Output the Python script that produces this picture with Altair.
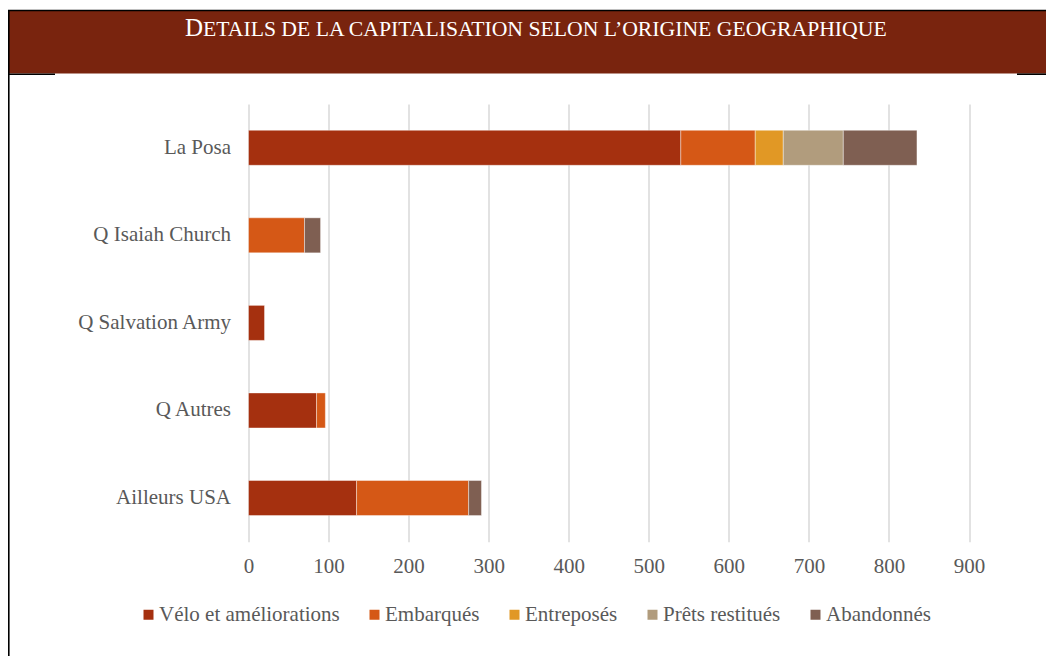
import altair as alt
import pandas as pd

categories = ["La Posa", "Q Isaiah Church", "Q Salvation Army", "Q Autres", "Ailleurs USA"]
series = ["Vélo et améliorations", "Embarqués", "Entreposés", "Prêts restitués", "Abandonnés"]
velo = [540, 0, 20, 85, 135]
embarques = [93, 70, 0, 11, 140]
entreposes = [35, 0, 0, 0, 0]
prets = [75, 0, 0, 0, 0]
abandonnes = [92, 20, 0, 0, 16]
colors = ["#A5300F", "#D55816", "#E19825", "#B19C7D", "#7F5F52"]
x_ticks = [0, 100, 200, 300, 400, 500, 600, 700, 800, 900]
title_first = "D"
title_rest = "ETAILS DE LA CAPITALISATION SELON L\u2019ORIGINE GEOGRAPHIQUE"

FONT = "Liberation Serif"
GREY = "#595959"

# geometry (plot area)
PL, PT, W, H = 240.5, 96.0, 720.5, 437.8
VIEW_W, VIEW_H = 1038, 648
PR = VIEW_W - PL - W
PB = VIEW_H - PT - H
OX, OY = 8 + PL, 8 + PT  # page coords of plot origin

rows = []
for si, (name, vals) in enumerate(zip(series, [velo, embarques, entreposes, prets, abandonnes])):
    for cat, v in zip(categories, vals):
        if v > 0:
            rows.append({"cat": cat, "serie": name, "val": v, "ord": si})
df = pd.DataFrame(rows)

bars = alt.Chart(df).mark_bar(stroke="white", strokeWidth=0.8, strokeOpacity=0.5).encode(
    x=alt.X("val:Q", stack="zero",
            scale=alt.Scale(domain=[0, 900], nice=False, zero=True),
            axis=alt.Axis(values=x_ticks, title=None, grid=True, gridColor="#D9D9D9",
                          gridWidth=1.5, domain=False, ticks=False, labelPadding=14,
                          labelFlush=False,
                          labelFont=FONT, labelFontSize=21, labelColor=GREY)),
    y=alt.Y("cat:N", sort=categories,
            scale=alt.Scale(paddingInner=0.6, paddingOuter=0.3),
            axis=alt.Axis(title=None, domain=False, ticks=False, labelPadding=18,
                          labelFont=FONT, labelFontSize=21, labelColor=GREY)),
    color=alt.Color("serie:N", scale=alt.Scale(domain=series, range=colors),
                    legend=alt.Legend(title=None, orient="none", legendX=-110.5, legendY=500,
                                      direction="horizontal", symbolType="square",
                                      symbolSize=100, symbolStrokeWidth=0,
                                      labelFont=FONT, labelFontSize=21, labelColor=GREY,
                                      labelLimit=0,
                                      columnPadding=24, labelOffset=0, padding=0,
                                      columns=5)),
    order=alt.Order("ord:Q"),
)

one = pd.DataFrame({"t": [title_rest], "d": [title_first]})

banner = alt.Chart(one).mark_rect(color="#79240E").encode(
    x=alt.value(8 - OX), x2=alt.value(8 + VIEW_W - OX),
    y=alt.value(11 - OY), y2=alt.value(73.5 - OY),
)
top_line = alt.Chart(one).mark_rule(color="black", strokeWidth=1.5).encode(
    x=alt.value(8 - OX), x2=alt.value(8 + VIEW_W - OX), y=alt.value(10.5 - OY),
)
left_line = alt.Chart(one).mark_rule(color="black", strokeWidth=1.6).encode(
    x=alt.value(8.8 - OX), y=alt.value(10 - OY), y2=alt.value(8 + VIEW_H - OY),
)
bl_seg = alt.Chart(one).mark_rule(color="black", strokeWidth=1.6).encode(
    x=alt.value(8 - OX), x2=alt.value(55 - OX), y=alt.value(74.2 - OY),
)
br_seg = alt.Chart(one).mark_rule(color="black", strokeWidth=1.6).encode(
    x=alt.value(1017 - OX), x2=alt.value(8 + VIEW_W - OX), y=alt.value(74.2 - OY),
)
t_first = alt.Chart(one).mark_text(font=FONT, fontSize=25, color="white", align="left",
                                   baseline="alphabetic").encode(
    x=alt.value(185 - OX), y=alt.value(36 - OY), text="d:N",
)
t_rest = alt.Chart(one).mark_text(font=FONT, fontSize=21.7, color="white", align="left",
                                  baseline="alphabetic").encode(
    x=alt.value(203 - OX), y=alt.value(36 - OY), text="t:N",
)

chart = alt.layer(banner, top_line, left_line, bl_seg, br_seg, t_first, t_rest, bars).properties(
    width=W, height=H,
    autosize=alt.AutoSizeParams(type="none"),
    padding={"left": PL, "top": PT, "right": PR, "bottom": PB},
    background="white",
).configure_view(stroke=None)

chart.save("out.html", embed_options={"renderer": "svg", "actions": False})
